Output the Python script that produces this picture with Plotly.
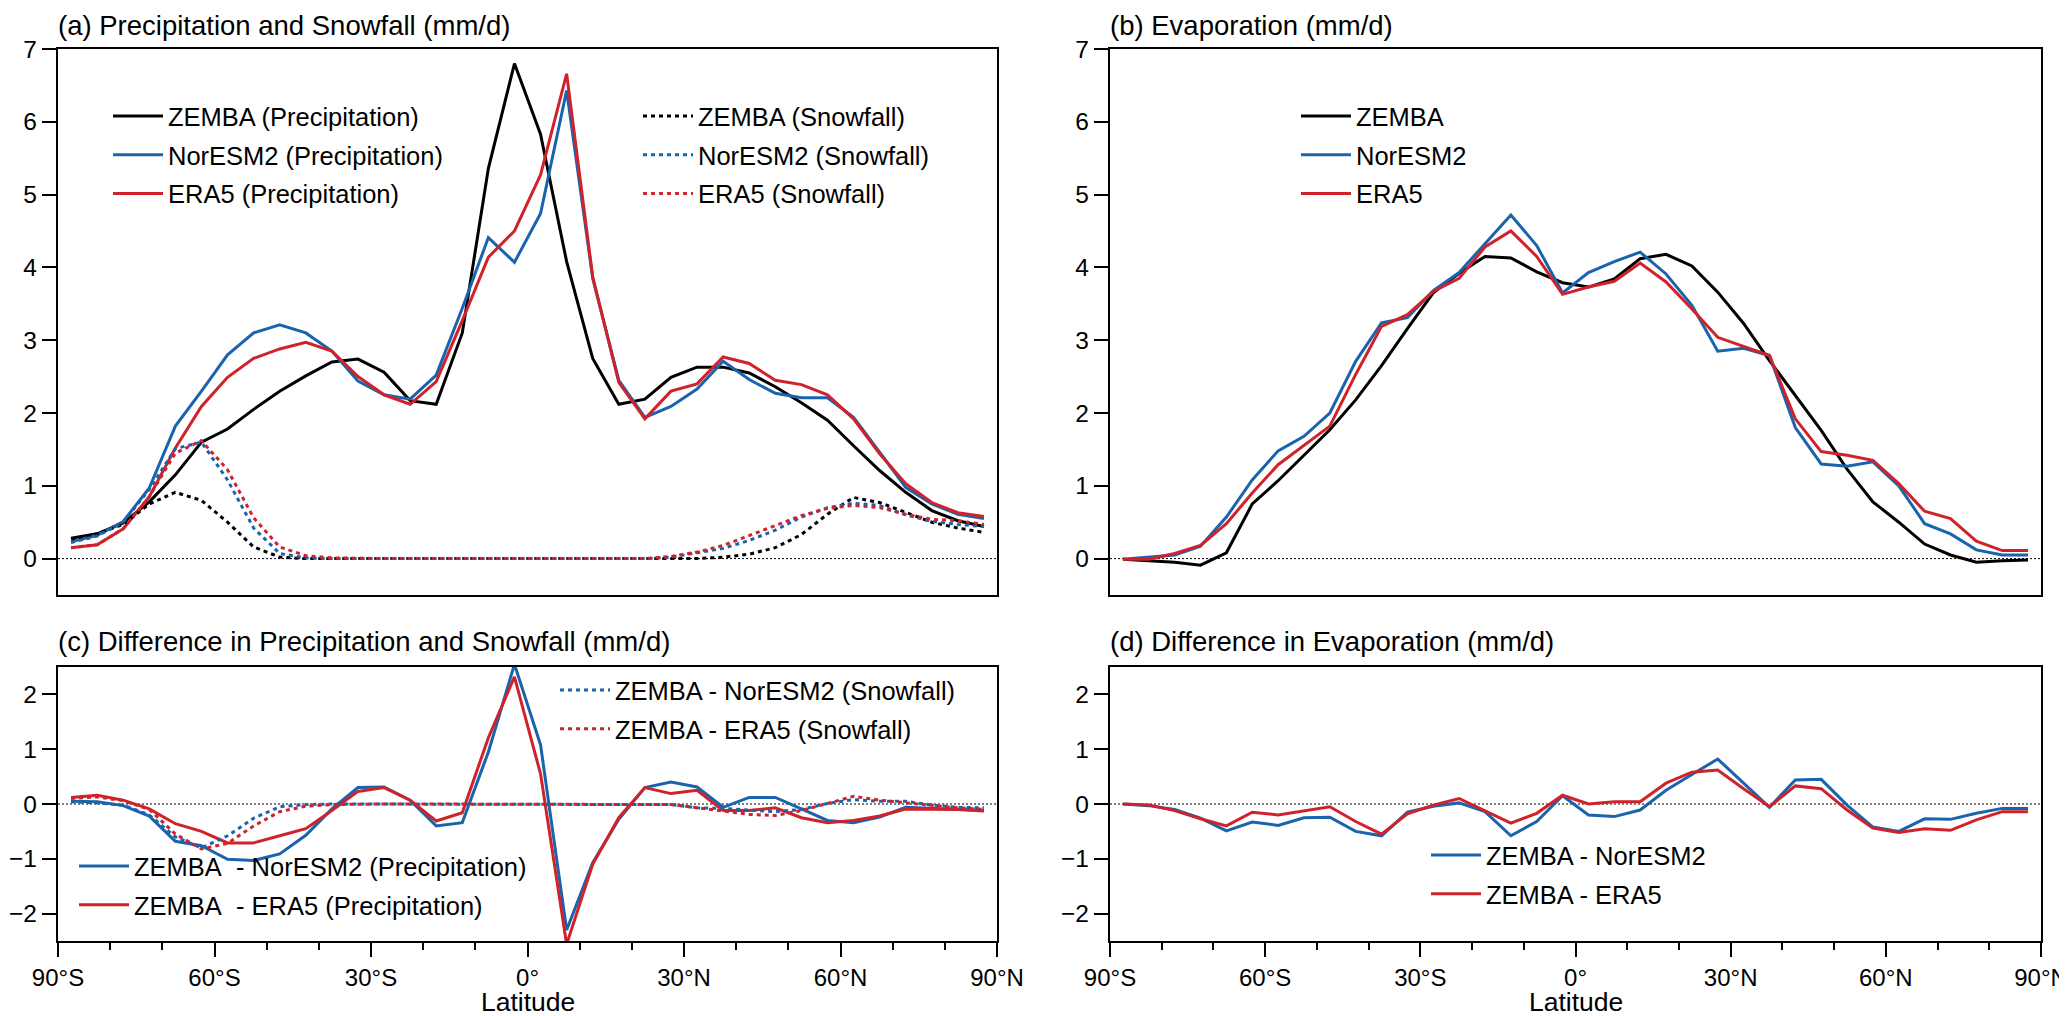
import plotly.graph_objects as go

# latitude band centres (deg)
lat = [-87.5, -82.5, -77.5, -72.5, -67.5, -62.5, -57.5, -52.5, -47.5, -42.5, -37.5, -32.5,
       -27.5, -22.5, -17.5, -12.5, -7.5, -2.5, 2.5, 7.5, 12.5, 17.5, 22.5, 27.5,
       32.5, 37.5, 42.5, 47.5, 52.5, 57.5, 62.5, 67.5, 72.5, 77.5, 82.5, 87.5]

# (a) precipitation and snowfall (mm/d)
zemba_pr = [0.28, 0.34, 0.49, 0.78, 1.15, 1.60, 1.78, 2.05, 2.30, 2.51, 2.70, 2.74,
            2.56, 2.17, 2.12, 3.10, 5.36, 6.80, 5.83, 4.08, 2.75, 2.12, 2.19, 2.49,
            2.63, 2.63, 2.55, 2.36, 2.14, 1.90, 1.55, 1.21, 0.91, 0.66, 0.52, 0.44]
nor_pr = [0.23, 0.32, 0.51, 0.97, 1.82, 2.30, 2.80, 3.10, 3.21, 3.10, 2.85, 2.44,
          2.25, 2.19, 2.52, 3.44, 4.41, 4.07, 4.74, 6.43, 3.85, 2.45, 1.94, 2.09,
          2.33, 2.71, 2.46, 2.27, 2.21, 2.21, 1.94, 1.46, 0.98, 0.75, 0.61, 0.55]
era_pr = [0.15, 0.19, 0.41, 0.85, 1.52, 2.09, 2.49, 2.75, 2.88, 2.97, 2.85, 2.50,
          2.25, 2.12, 2.43, 3.27, 4.14, 4.50, 5.27, 6.66, 3.87, 2.42, 1.92, 2.30,
          2.40, 2.77, 2.68, 2.45, 2.39, 2.25, 1.92, 1.44, 1.03, 0.77, 0.63, 0.58]
zemba_sf = [0.27, 0.34, 0.47, 0.75, 0.91, 0.80, 0.50, 0.16, 0.02, 0.00, 0.00, 0.00,
            0.00, 0.00, 0.00, 0.00, 0.00, 0.00, 0.00, 0.00, 0.00, 0.00, 0.00, 0.00,
            0.00, 0.02, 0.06, 0.15, 0.33, 0.61, 0.84, 0.77, 0.63, 0.50, 0.42, 0.36]
nor_sf = [0.22, 0.31, 0.50, 0.95, 1.51, 1.60, 1.08, 0.42, 0.07, 0.01, 0.00, 0.00,
          0.00, 0.00, 0.00, 0.00, 0.00, 0.00, 0.00, 0.00, 0.00, 0.00, 0.00, 0.02,
          0.08, 0.14, 0.25, 0.39, 0.57, 0.70, 0.76, 0.73, 0.60, 0.51, 0.47, 0.44]
era_sf = [0.15, 0.19, 0.41, 0.85, 1.45, 1.62, 1.22, 0.56, 0.16, 0.04, 0.01, 0.00,
          0.00, 0.00, 0.00, 0.00, 0.00, 0.00, 0.00, 0.00, 0.00, 0.00, 0.00, 0.03,
          0.09, 0.18, 0.32, 0.46, 0.59, 0.69, 0.73, 0.70, 0.61, 0.54, 0.52, 0.47]

# (b) evaporation (mm/d)
zemba_ev = [-0.01, -0.03, -0.05, -0.09, 0.08, 0.75, 1.07, 1.42, 1.77, 2.18, 2.65, 3.16,
            3.65, 3.92, 4.15, 4.13, 3.94, 3.79, 3.73, 3.84, 4.12, 4.18, 4.02, 3.66,
            3.23, 2.72, 2.24, 1.76, 1.23, 0.78, 0.50, 0.20, 0.05, -0.05, -0.03, -0.02]
nor_ev = [-0.01, 0.02, 0.05, 0.17, 0.57, 1.08, 1.48, 1.68, 2.00, 2.71, 3.24, 3.31,
          3.68, 3.93, 4.33, 4.72, 4.30, 3.65, 3.93, 4.08, 4.21, 3.91, 3.48, 2.85,
          2.89, 2.79, 1.80, 1.30, 1.27, 1.33, 1.00, 0.48, 0.34, 0.12, 0.05, 0.05]
era_ev = [-0.01, -0.01, 0.07, 0.18, 0.48, 0.90, 1.29, 1.55, 1.82, 2.53, 3.19, 3.35,
          3.67, 3.85, 4.28, 4.50, 4.15, 3.63, 3.73, 3.81, 4.06, 3.80, 3.43, 3.04,
          2.92, 2.79, 1.92, 1.47, 1.42, 1.35, 1.03, 0.65, 0.55, 0.24, 0.11, 0.11]

# (c) differences in precipitation and snowfall (mm/d)
d_nor_pr = [0.05, 0.04, -0.03, -0.22, -0.68, -0.76, -1.01, -1.03, -0.91, -0.57, -0.09, 0.30,
            0.31, 0.07, -0.40, -0.34, 0.95, 2.55, 1.08, -2.30, -1.07, -0.28, 0.30, 0.40,
            0.31, -0.06, 0.12, 0.12, -0.09, -0.30, -0.34, -0.24, -0.06, -0.08, -0.10, -0.12]
d_era_pr = [0.12, 0.16, 0.07, -0.09, -0.36, -0.50, -0.71, -0.71, -0.58, -0.45, -0.12, 0.23,
            0.30, 0.07, -0.31, -0.16, 1.21, 2.32, 0.55, -2.56, -1.10, -0.25, 0.30, 0.19,
            0.25, -0.12, -0.12, -0.07, -0.25, -0.34, -0.30, -0.22, -0.09, -0.09, -0.10, -0.13]
d_nor_sf = [0.04, 0.02, -0.02, -0.20, -0.60, -0.80, -0.58, -0.26, -0.05, -0.01, 0.00, 0.00,
            0.00, 0.00, 0.00, 0.00, 0.00, 0.00, 0.00, 0.00, 0.00, 0.00, 0.00, -0.01,
            -0.07, -0.08, -0.11, -0.14, -0.10, 0.01, 0.08, 0.05, 0.05, -0.02, -0.06, -0.07]
d_era_sf = [0.10, 0.13, 0.06, -0.10, -0.55, -0.82, -0.72, -0.40, -0.14, -0.04, -0.01, 0.00,
            0.00, 0.00, 0.00, 0.00, 0.00, 0.00, 0.00, 0.00, 0.00, 0.00, 0.00, -0.01,
            -0.07, -0.13, -0.19, -0.21, -0.12, 0.01, 0.14, 0.07, 0.02, -0.02, -0.07, -0.10]

# (d) differences in evaporation (mm/d)
d_nor_ev = [0.00, -0.03, -0.10, -0.26, -0.49, -0.33, -0.39, -0.25, -0.24, -0.50, -0.58, -0.15,
            -0.04, 0.02, -0.14, -0.58, -0.32, 0.15, -0.20, -0.23, -0.11, 0.25, 0.54, 0.82,
            0.38, -0.06, 0.44, 0.45, -0.02, -0.42, -0.50, -0.27, -0.28, -0.17, -0.08, -0.08]
d_era_ev = [0.00, -0.02, -0.12, -0.27, -0.40, -0.15, -0.20, -0.12, -0.05, -0.32, -0.55, -0.18,
            -0.02, 0.10, -0.13, -0.35, -0.17, 0.16, 0.00, 0.04, 0.04, 0.38, 0.58, 0.62,
            0.28, -0.05, 0.33, 0.28, -0.11, -0.44, -0.52, -0.45, -0.48, -0.29, -0.14, -0.14]

lat_ticks = [-90, -60, -30, 0, 30, 60, 90]
lat_labels = ['90°S', '60°S', '30°S', '0°', '30°N', '60°N', '90°N']

BLACK = '#000000'
BLUE = '#1a63ad'
RED = '#d0222a'
FONT = 'Liberation Sans, Arial, sans-serif'
W, H = 2067, 1016
LW = 3
DOT = '4px,4px'

fig = go.Figure()


def add(y, name, color, ax, leg, dotted=False):
    fig.add_trace(go.Scatter(
        x=lat, y=y, name=name, mode='lines',
        line=dict(color=color, width=LW, dash=DOT if dotted else 'solid'),
        xaxis='x' + ax, yaxis='y' + ax, legend=leg, legendgroup=name + leg))


add(zemba_pr, 'ZEMBA (Precipitation)', BLACK, '', 'legend')
add(nor_pr, 'NorESM2 (Precipitation)', BLUE, '', 'legend')
add(era_pr, 'ERA5 (Precipitation)', RED, '', 'legend')
add(zemba_sf, 'ZEMBA (Snowfall)', BLACK, '', 'legend2', True)
add(nor_sf, 'NorESM2 (Snowfall)', BLUE, '', 'legend2', True)
add(era_sf, 'ERA5 (Snowfall)', RED, '', 'legend2', True)

add(zemba_ev, 'ZEMBA', BLACK, '2', 'legend3')
add(nor_ev, 'NorESM2', BLUE, '2', 'legend3')
add(era_ev, 'ERA5', RED, '2', 'legend3')

add(d_nor_pr, 'ZEMBA\u00a0 - NorESM2 (Precipitation)', BLUE, '3', 'legend4')
add(d_era_pr, 'ZEMBA\u00a0 - ERA5 (Precipitation)', RED, '3', 'legend4')
add(d_nor_sf, 'ZEMBA - NorESM2 (Snowfall)', BLUE, '3', 'legend5', True)
add(d_era_sf, 'ZEMBA - ERA5 (Snowfall)', RED, '3', 'legend5', True)

add(d_nor_ev, 'ZEMBA - NorESM2', BLUE, '4', 'legend6')
add(d_era_ev, 'ZEMBA - ERA5', RED, '4', 'legend6')

# panel placement in pixels (left, right, top, bottom)
panels = {
    '': (50, 989, 41, 587),
    '2': (1102, 2033, 41, 587),
    '3': (50, 989, 659, 933),
    '4': (1102, 2033, 659, 933),
}

layout = dict(
    template='none',
    width=W, height=H, margin=dict(l=0, r=0, t=0, b=0, autoexpand=False),
    paper_bgcolor='white', plot_bgcolor='white', showlegend=True,
    font=dict(family=FONT, size=24, color='black'),
)

for ax, (l, r, t, b) in panels.items():
    bottom = ax in ('3', '4')
    xa = dict(domain=[l / W, r / W], range=[-90, 90], anchor='y' + ax,
              automargin=False, showline=True, linewidth=2.4, linecolor='black',
              mirror=True, showgrid=False, zeroline=False)
    if bottom:
        xa.update(tickvals=lat_ticks, ticktext=lat_labels, ticks='outside',
                  ticklen=14, tickwidth=2, tickcolor='black',
                  tickfont=dict(size=24), ticklabeloverflow='allow',
                  minor=dict(dtick=10, tick0=-90, ticks='outside', ticklen=7,
                             tickwidth=2, tickcolor='black', showgrid=False))
    else:
        xa.update(showticklabels=False, ticks='')
    ya = dict(domain=[1 - b / H, 1 - t / H], anchor='x' + ax, automargin=False,
              showline=True, linewidth=2.4, linecolor='black', mirror=True,
              showgrid=False, zeroline=False, ticks='outside', ticklen=14,
              tickwidth=2, tickcolor='black', tickfont=dict(size=24.5))
    if bottom:
        ya.update(range=[-2.5, 2.5], tickvals=[-2, -1, 0, 1, 2])
    else:
        ya.update(range=[-0.5, 7], tickvals=[0, 1, 2, 3, 4, 5, 6, 7])
    layout['xaxis' + ax] = xa
    layout['yaxis' + ax] = ya

# legends: (name, left px, top px)
leg_pos = {
    'legend': (100, 85),
    'legend2': (630, 85),
    'legend3': (1288, 85),
    'legend4': (66, 835),
    'legend5': (547, 659),
    'legend6': (1418, 824),
}
for name, (lx, ly) in leg_pos.items():
    layout[name] = dict(x=lx / W, y=1 - ly / H, xanchor='left', yanchor='top',
                        xref='paper', yref='paper', bgcolor='rgba(0,0,0,0)',
                        font=dict(size=25.5), itemwidth=50, tracegroupgap=2.5,
                        traceorder='grouped')

fig.update_layout(**layout)

# dotted zero reference line in each panel
for ax in panels:
    xref = 'x' + ax if ax else 'x'
    fig.add_shape(type='line', xref=xref + ' domain', yref='y' + ax,
                  x0=0, x1=1, y0=0, y1=0, layer='below',
                  line=dict(color='black', width=1, dash='2px,2px'))

titles = [
    ('(a) Precipitation and Snowfall (mm/d)', 50, 18),
    ('(b) Evaporation (mm/d)', 1102, 18),
    ('(c) Difference in Precipitation and Snowfall (mm/d)', 50, 633),
    ('(d) Difference in Evaporation (mm/d)', 1102, 633),
]
for text, tx, ty in titles:
    fig.add_annotation(text=text, x=tx / W, y=1 - ty / H, xref='paper', yref='paper',
                       xanchor='left', yanchor='middle', showarrow=False,
                       font=dict(size=27.5, family=FONT), xshift=-2)

# x-axis titles under the lower panels
for l, r in [(50, 989), (1102, 2033)]:
    fig.add_annotation(text='Latitude', x=(l + r) / 2 / W, y=1 - 994 / H,
                       xref='paper', yref='paper', xanchor='center', yanchor='middle',
                       showarrow=False, font=dict(size=26.5, family=FONT))

fig.write_html('out.html')
